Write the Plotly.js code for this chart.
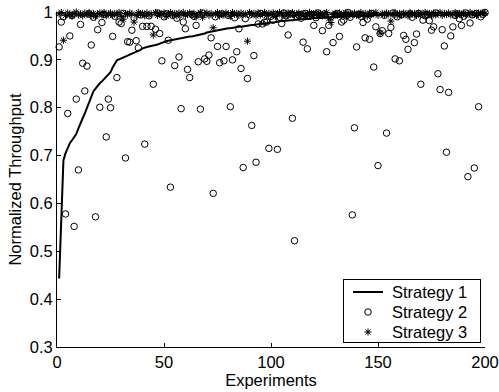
<!DOCTYPE html>
<html>
<head>
<meta charset="utf-8">
<script src="https://cdn.plot.ly/plotly-3.0.1.min.js"></script>
<style>html,body{margin:0;padding:0;background:#fff;}#chart{width:499px;height:392px;}</style>
</head>
<body>
<div id="chart"></div>
<script>
var experiments = [];
for (var i = 1; i <= 200; i++) experiments.push(i);

var strategy1 = [
0.443,0.560,0.690,0.705,0.717,0.726,0.732,0.738,0.745,0.757,
0.769,0.778,0.788,0.800,0.813,0.826,0.834,0.840,0.846,0.851,
0.855,0.860,0.864,0.868,0.874,0.884,0.893,0.899,0.901,0.903,
0.904,0.906,0.908,0.910,0.912,0.914,0.916,0.919,0.921,0.924,
0.926,0.927,0.928,0.929,0.929,0.930,0.932,0.934,0.936,0.937,
0.939,0.940,0.941,0.942,0.943,0.944,0.945,0.946,0.947,0.948,
0.948,0.949,0.949,0.950,0.951,0.951,0.952,0.954,0.955,0.957,
0.958,0.959,0.960,0.960,0.961,0.962,0.963,0.964,0.965,0.966,
0.966,0.967,0.968,0.968,0.969,0.969,0.970,0.971,0.971,0.972,
0.973,0.973,0.974,0.974,0.975,0.976,0.976,0.977,0.977,0.978,
0.978,0.979,0.979,0.980,0.981,0.981,0.982,0.982,0.983,0.983,
0.984,0.984,0.985,0.985,0.985,0.986,0.986,0.986,0.987,0.987,
0.987,0.988,0.988,0.988,0.988,0.989,0.989,0.989,0.989,0.990,
0.990,0.990,0.990,0.991,0.991,0.991,0.991,0.991,0.992,0.992,
0.992,0.992,0.992,0.993,0.993,0.993,0.993,0.993,0.994,0.994,
0.994,0.994,0.994,0.995,0.995,0.995,0.995,0.995,0.995,0.996,
0.996,0.996,0.996,0.996,0.996,0.997,0.997,0.997,0.997,0.997,
0.997,0.997,0.998,0.998,0.998,0.998,0.998,0.998,0.998,0.998,
0.999,0.999,0.999,0.999,0.999,0.999,0.999,0.999,0.999,0.999,
0.999,0.999,0.999,1.000,1.000,1.000,1.000,1.000,1.000,1.000
];

var strategy2 = [
0.927,0.979,0.990,0.578,0.788,0.950,0.993,0.552,0.818,0.670,
0.974,0.893,0.835,0.887,0.996,0.931,0.989,0.572,0.963,0.801,
0.978,0.995,0.739,0.818,0.800,0.949,0.991,0.863,0.979,0.976,
0.997,0.695,0.938,0.937,0.962,0.988,0.940,0.925,0.994,0.970,
0.724,0.970,0.992,0.970,0.849,0.964,0.998,0.955,0.898,0.990,
0.996,0.941,0.634,0.993,0.888,0.987,0.906,0.798,0.979,0.965,
0.880,0.863,0.995,0.991,0.972,0.896,0.797,0.998,0.902,0.897,
0.910,0.946,0.621,0.990,0.928,0.894,0.996,0.898,0.928,0.993,
0.802,0.900,0.988,0.917,0.965,0.882,0.675,0.986,0.861,0.994,
0.763,0.909,0.686,0.975,0.997,0.975,0.979,0.979,0.715,0.991,
0.983,0.995,0.713,0.989,0.976,0.998,0.992,0.952,0.996,0.778,
0.522,0.990,0.994,0.987,0.937,0.997,0.923,0.991,0.995,0.972,
0.988,0.998,0.993,0.961,0.996,0.917,0.972,0.990,0.936,0.994,
0.997,0.949,0.979,0.983,0.992,0.999,0.989,0.576,0.758,0.927,
0.995,0.991,0.978,0.946,0.985,0.943,0.997,0.885,0.969,0.679,
0.955,0.961,0.993,0.747,0.955,0.968,0.998,0.902,0.990,0.898,
0.994,0.951,0.943,0.922,0.996,0.989,0.936,0.954,0.997,0.849,
0.983,0.992,0.995,0.982,0.962,0.969,0.998,0.871,0.838,0.963,
0.929,0.707,0.832,0.950,0.969,0.993,0.996,0.986,0.972,0.991,
0.998,0.656,0.977,0.994,0.674,0.997,0.802,0.990,0.995,0.999
];

var strategy3 = [
0.996,0.999,0.941,0.993,0.998,0.995,0.991,0.997,1.000,0.994,
0.996,0.992,0.998,0.995,0.999,0.993,0.997,0.990,0.996,0.998,
0.994,0.999,0.992,0.996,0.998,0.993,0.997,0.995,0.999,0.991,
0.985,0.997,0.994,0.998,0.996,0.979,0.993,0.999,0.995,0.997,
0.992,0.998,0.994,0.996,0.952,0.999,0.993,0.997,0.995,0.998,
0.991,0.996,0.999,0.994,0.997,0.992,0.998,0.995,0.999,0.993,
0.996,0.998,0.994,0.997,0.990,0.995,0.999,0.989,0.996,0.998,
0.993,0.997,0.967,0.995,0.999,0.992,0.997,0.994,0.998,0.996,
0.991,0.999,0.995,0.997,0.993,0.998,0.994,0.996,0.939,0.999,
0.995,0.997,0.992,0.998,0.994,0.996,0.999,0.993,0.997,0.995,
0.998,0.991,0.996,0.999,0.994,0.997,0.992,0.998,0.995,0.999,
0.993,0.996,0.998,0.994,0.997,0.990,0.995,0.999,0.993,0.996,
0.998,0.994,0.997,0.992,0.996,0.999,0.986,0.978,0.995,0.997,
0.993,0.998,0.994,0.996,0.999,0.992,0.997,0.995,0.998,0.993,
0.996,0.999,0.994,0.997,0.991,0.998,0.995,0.996,0.999,0.993,
0.956,0.997,0.994,0.998,0.996,0.981,0.995,0.999,0.993,0.997,
0.994,0.998,0.996,0.992,0.999,0.995,0.997,0.993,0.998,0.994,
0.996,0.999,0.995,0.997,0.992,0.998,0.994,0.996,0.999,0.993,
0.997,0.995,0.998,0.994,0.996,0.999,0.993,0.997,0.995,0.998,
0.994,0.996,0.999,0.995,0.997,0.993,0.998,0.996,0.999,0.997
];

var seriesNames = ['Strategy 1', 'Strategy 2', 'Strategy 3'];
var xTicks = [0, 50, 100, 150, 200];
var yTicks = [0.3, 0.4, 0.5, 0.6, 0.7, 0.8, 0.9, 1];

var FONT = 'Liberation Sans, Arial, Helvetica, sans-serif';
var FS = 16.5;

var traces = [
  {x: experiments, y: strategy1, name: seriesNames[0], type: 'scatter', mode: 'lines',
   line: {color: '#000', width: 2}, cliponaxis: false},
  {x: experiments, y: strategy2, name: seriesNames[1], type: 'scatter', mode: 'markers', cliponaxis: false,
   marker: {symbol: 'circle-open', size: 6.5, color: '#000', line: {color: '#000', width: 1}}},
  {x: experiments, y: strategy3, name: seriesNames[2], type: 'scatter', mode: 'markers', cliponaxis: false,
   marker: {symbol: 'asterisk-open', size: 6, color: '#000', line: {color: '#000', width: 1}}}
];

var layout = {
  width: 499, height: 392,
  margin: {l: 57, r: 14, t: 12, b: 45, pad: 0},
  paper_bgcolor: '#fff', plot_bgcolor: '#fff',
  font: {family: FONT, size: FS, color: '#000'},
  showlegend: true,
  legend: {x: 0.988, y: 0.013, xanchor: 'right', yanchor: 'bottom',
           bordercolor: '#000', borderwidth: 1, bgcolor: '#fff',
           font: {family: FONT, size: FS, color: '#000'},
           tracegroupgap: 0, itemwidth: 30},
  xaxis: {range: [0, 200], tickvals: xTicks, ticktext: xTicks.map(String),
          showline: true, linecolor: '#000', linewidth: 1, mirror: false,
          ticks: 'inside', ticklen: 4, tickcolor: '#000', showgrid: false, zeroline: false,
          tickfont: {family: FONT, size: FS, color: '#000'},
          title: {text: 'Experiments', font: {family: FONT, size: FS, color: '#000'}, standoff: 1}},
  yaxis: {range: [0.3, 1], tickvals: yTicks, ticktext: yTicks.map(String),
          showline: true, linecolor: '#000', linewidth: 1, mirror: false,
          ticks: 'inside', ticklen: 4, tickcolor: '#000', showgrid: false, zeroline: false,
          tickfont: {family: FONT, size: FS, color: '#000'},
          title: {text: 'Normalized Throughput', font: {family: FONT, size: FS, color: '#000'}, standoff: 3}}
};

Plotly.newPlot('chart', traces, layout, {displayModeBar: false, staticPlot: true}).then(function (gd) {
  // compact the legend to match the reference box (rows ~20px apart)
  var leg = gd.querySelector('.legend');
  if (!leg) return;
  var boxL = 343, boxT = 279, boxW = 137, boxH = 63;
  leg.setAttribute('transform', 'translate(' + boxL + ',' + boxT + ')');
  var bg = leg.querySelector('rect.bg');
  if (bg) { bg.setAttribute('x', 0.5); bg.setAttribute('y', 0.5); bg.setAttribute('width', boxW); bg.setAttribute('height', boxH); }
  var sb = leg.querySelector('.scrollbox');
  if (sb) { sb.removeAttribute('clip-path'); sb.setAttribute('transform', 'translate(0,0)'); }
  var groups = leg.querySelectorAll('.groups');
  for (var g = 0; g < groups.length; g++) groups[g].setAttribute('transform', 'translate(0,0)');
  var items = leg.querySelectorAll('.traces');
  for (var k = 0; k < items.length; k++) {
    items[k].setAttribute('transform', 'translate(5,' + (13 + 20 * k) + ')');
    var t = items[k].querySelector('text.legendtext');
    if (t) t.setAttribute('x', 44);
  }
});
</script>
</body>
</html>
